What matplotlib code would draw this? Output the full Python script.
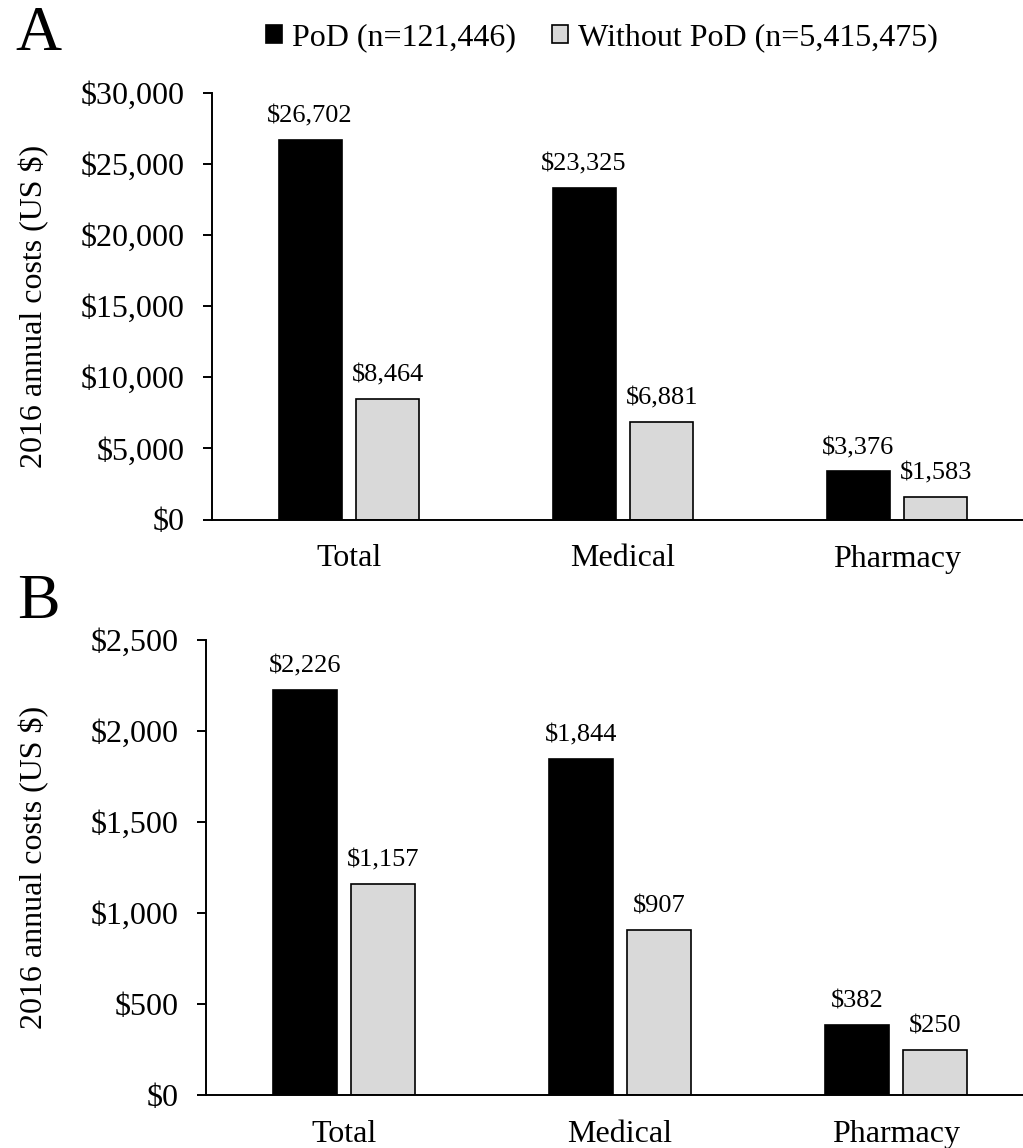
import matplotlib.pyplot as plt
from matplotlib.patches import Patch
import numpy as np

plt.rcParams['font.family'] = ['Liberation Serif', 'DejaVu Serif']

categories = ['Total', 'Medical', 'Pharmacy']
series_names = ['PoD (n=121,446)', 'Without PoD (n=5,415,475)']

# panel A: all-cause costs
a_pod = [26702, 23325, 3376]
a_without = [8464, 6881, 1583]
a_ticks = [0, 5000, 10000, 15000, 20000, 25000, 30000]

# panel B
b_pod = [2226, 1844, 382]
b_without = [1157, 907, 250]
b_ticks = [0, 500, 1000, 1500, 2000, 2500]

W, H = 1023, 1148
fig = plt.figure(figsize=(W / 100, H / 100), dpi=100)

# axes positions in pixels: left, top, bottom
ax_a = fig.add_axes([212 / W, 1 - 519.5 / H, 1 - 212 / W, (519.5 - 92.7) / H])
ax_b = fig.add_axes([206 / W, 1 - 1095 / H, 1 - 206 / W, (1095 - 640) / H])

colors = ['black', '#d9d9d9']
x = np.arange(len(categories))
bw = 0.23
off = 0.142


def draw(ax, pod, without, ticks):
    b1 = ax.bar(x - off, pod, bw, color=colors[0], edgecolor='black', linewidth=1.2)
    b2 = ax.bar(x + off, without, bw, color=colors[1], edgecolor='black', linewidth=1.2)
    for bars in (b1, b2):
        ax.bar_label(bars, labels=['${:,}'.format(v) for v in bars.datavalues],
                     padding=9, fontsize=19)
    ax.set_xlim(-0.5, 2.46)
    ax.set_ylim(0, ticks[-1])
    ax.set_yticks(ticks)
    ax.set_yticklabels(['${:,}'.format(t) for t in ticks], fontsize=23)
    ax.set_xticks(x)
    ax.set_xticklabels(categories, fontsize=23)
    ax.tick_params(axis='x', length=0, pad=18)
    ax.tick_params(axis='y', length=6.5, width=1.4, pad=13)
    for s in ('top', 'right'):
        ax.spines[s].set_visible(False)
    for s in ('left', 'bottom'):
        ax.spines[s].set_linewidth(1.4)
    ax.set_ylabel('2016 annual costs (US $)', fontsize=23)


draw(ax_a, a_pod, a_without, a_ticks)
draw(ax_b, b_pod, b_without, b_ticks)
ax_a.yaxis.set_label_coords(-163 / 811, 0.5)
ax_b.yaxis.set_label_coords(-157 / 817, 0.5)

fig.text(38 / W, 1 - 35 / H, 'A', fontsize=46, ha='center', va='center')
fig.text(38 / W, 1 - 603 / H, 'B', fontsize=46, ha='center', va='center')

handles = [Patch(facecolor=c, edgecolor='black', linewidth=1.2) for c in colors]
fig.legend(handles, series_names, loc='center', bbox_to_anchor=(602 / W, 1 - 38 / H),
           ncol=2, frameon=False, fontsize=23, handlelength=0.5, handleheight=0.5,
           handletextpad=0.3, columnspacing=1.15, borderaxespad=0, borderpad=0)

fig.savefig('out.png', dpi=100)
